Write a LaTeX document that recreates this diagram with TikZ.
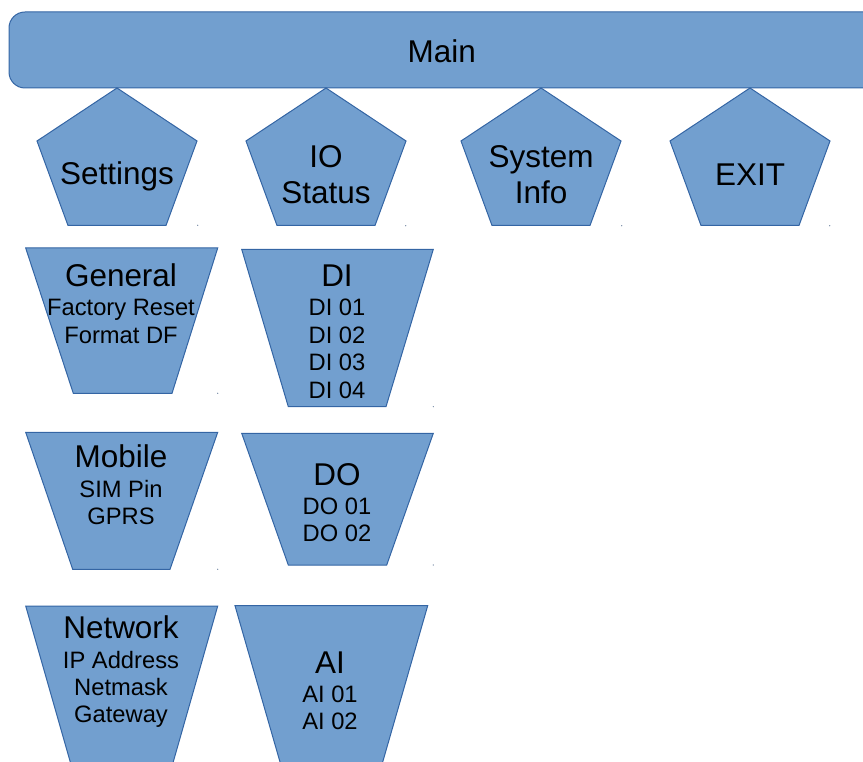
\documentclass[tikz,border=0pt]{standalone}
\usepackage{fontspec}
\setmainfont{Liberation Sans}
\definecolor{boxfill}{HTML}{729FCF}
\definecolor{boxline}{HTML}{3465A4}
\begin{document}
\begin{tikzpicture}[x=0.75pt,y=-0.75pt,
  shapebox/.style={fill=boxfill,draw=boxline,line width=0.75pt,line join=miter},
  bigtext/.style={font=\fontsize{23.6}{27}\selectfont,anchor=base,inner sep=0pt,yshift=-1.1pt},
  smalltext/.style={font=\fontsize{17.8}{21}\selectfont,anchor=base,inner sep=0pt,yshift=-1.1pt},
  dotmark/.style={fill=boxline!50!gray}]
\useasboundingbox (0,0) rectangle (863,762);
\clip (0,0) rectangle (863,762);

% Main bar
\draw[shapebox,rounded corners=12pt] (9,12) rectangle (900,88);
\node[bigtext] (main) at (441.7,61.5) {Main};

% Pentagons
\foreach \c in {117,326,541,750}{
  \draw[shapebox] (\c,88) -- (\c+80,141) -- (\c+49,225.5) -- (\c-49,225.5) -- (\c-80,141) -- cycle;
}
\node[bigtext] (settings) at (117,183) {Settings};
\node[bigtext] (io1) at (326,166) {IO};
\node[bigtext] (io2) at (326,201.7) {Status};
\node[bigtext] (sys1) at (541,166) {System};
\node[bigtext] (sys2) at (541,201.7) {Info};
\node[bigtext] (exit) at (750,184.3) {EXIT};

% Trapezoids, column 1
\draw[shapebox] (25.7,248) -- (217.7,248) -- (172,393.3) -- (73.3,393.3) -- cycle;
\node[bigtext] (general) at (121,285) {General};
\node[smalltext] (g1) at (121,314) {Factory Reset};
\node[smalltext] (g2) at (121,341.7) {Format DF};

\draw[shapebox] (25.7,432.3) -- (217.7,432.3) -- (170,569.3) -- (72.7,569.3) -- cycle;
\node[bigtext] (mobile) at (121,465.7) {Mobile};
\node[smalltext] (m1) at (121,496) {SIM Pin};
\node[smalltext] (m2) at (121,522.7) {GPRS};

\draw[shapebox] (25.7,606) -- (217.7,606) -- (170.5,771.5) -- (73,771.5) -- cycle;
\node[bigtext] (network) at (121,636.7) {Network};
\node[smalltext] (n1) at (121,666.7) {IP Address};
\node[smalltext] (n2) at (121,694.3) {Netmask};
\node[smalltext] (n3) at (121,721.5) {Gateway};

% Trapezoids, column 2
\draw[shapebox] (241.7,249.3) -- (433.3,249.3) -- (386,406.7) -- (288.3,406.7) -- cycle;
\node[bigtext] (di) at (337,285) {DI};
\node[smalltext] (di1) at (337,314) {DI 01};
\node[smalltext] (di2) at (337,341.7) {DI 02};
\node[smalltext] (di3) at (337,369.3) {DI 03};
\node[smalltext] (di4) at (337,396.7) {DI 04};

\draw[shapebox] (241.7,433.3) -- (433.3,433.3) -- (386.7,565) -- (288.3,565) -- cycle;
\node[bigtext] (do) at (337,484) {DO};
\node[smalltext] (do1) at (337,512.7) {DO 01};
\node[smalltext] (do2) at (337,540) {DO 02};

\draw[shapebox] (235,605.7) -- (427.7,605.7) -- (379.8,772) -- (282.9,772) -- cycle;
\node[bigtext] (ai) at (330,671.7) {AI};
\node[smalltext] (ai1) at (330,701) {AI 01};
\node[smalltext] (ai2) at (330,728.3) {AI 02};

% tiny corner marks
\foreach \p in {(197.7,225.3),(405.7,225.7),(621.7,225.7),(829.7,225.7),(217.7,393.3),(433.3,406.7),(217.7,569.3),(433.3,565)}{
  \fill[dotmark] \p circle (0.6);
}
\end{tikzpicture}
\end{document}
